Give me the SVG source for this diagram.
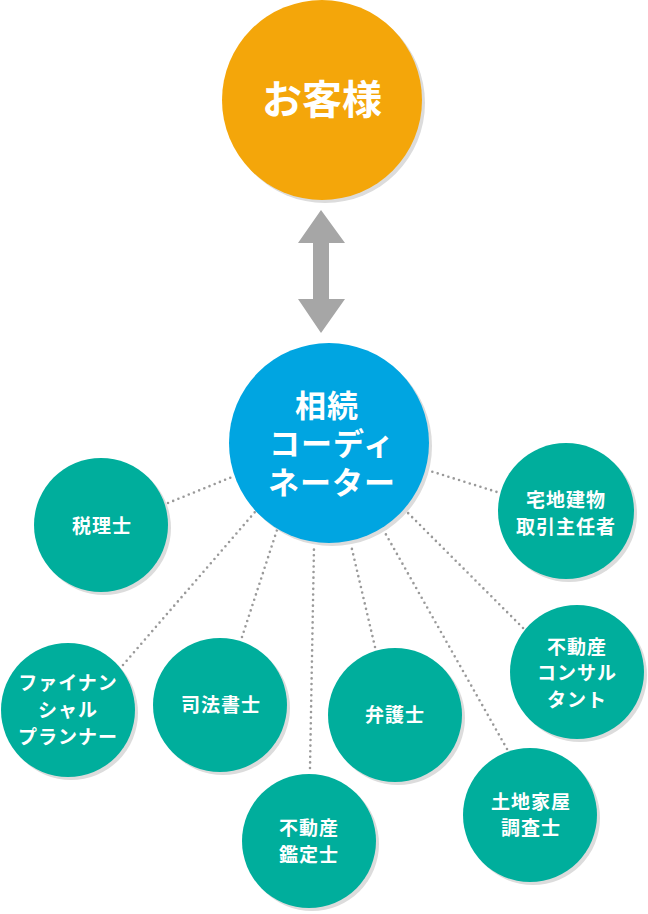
<svg xmlns="http://www.w3.org/2000/svg" width="648" height="914" viewBox="0 0 648 914">
<style>
.sh{fill:#dcdcdc}
.t{fill:#fff;font-family:"Noto Sans CJK JP","Noto Sans",sans-serif;font-weight:bold;text-anchor:middle}
.s{font-size:19px;letter-spacing:1px}
.m{font-size:31px;letter-spacing:1px}
.l{font-size:40px}
.tl{fill:#00ae9c}
.dot{stroke:#9a9a9a;stroke-width:2.6;stroke-linecap:round;stroke-dasharray:0 5.6;fill:none}
</style>
<rect width="648" height="914" fill="#fff"/>
<g id="connectors">
<line class="dot" x1="168" y1="503" x2="232" y2="477"/>
<line class="dot" x1="123" y1="665" x2="255" y2="512"/>
<line class="dot" x1="242" y1="637" x2="277" y2="530"/>
<line class="dot" x1="310" y1="768" x2="314" y2="547"/>
<line class="dot" x1="375" y1="647" x2="351" y2="545"/>
<line class="dot" x1="507" y1="749" x2="384" y2="531"/>
<line class="dot" x1="523" y1="628" x2="405" y2="510"/>
<line class="dot" x1="427" y1="470" x2="497" y2="492"/>
<polygon fill="#a6a6a6" points="321,210 345,243 329,243 329,299 345,299 321,333 298,299 313,299 313,243 298,243"/>
</g>
<g id="customer">
<circle class="sh" cx="325" cy="103" r="100"/>
<circle cx="322" cy="100" r="100" fill="#f4a60a"/>
<text class="t l" x="322" y="114">お客様</text>
</g>
<g id="coordinator">
<circle class="sh" cx="332" cy="446" r="100"/>
<circle cx="329" cy="443" r="100" fill="#00a5e1"/>
<text class="t m" x="327" y="417">相続</text>
<text class="t m" x="332" y="455">コーディ</text>
<text class="t m" x="332" y="494">ネーター</text>
</g>
<g id="zeirishi">
<circle class="sh" cx="104" cy="528" r="67"/>
<circle class="tl" cx="101" cy="525" r="67"/>
<text class="t s" x="102" y="533">税理士</text>
</g>
<g id="fp">
<circle class="sh" cx="71" cy="713" r="67"/>
<circle class="tl" cx="68" cy="710" r="67"/>
<text class="t s" x="68" y="690">ファイナン</text>
<text class="t s" x="68" y="717">シャル</text>
<text class="t s" x="68" y="744">プランナー</text>
</g>
<g id="shihoshoshi">
<circle class="sh" cx="223" cy="708" r="67"/>
<circle class="tl" cx="220" cy="705" r="67"/>
<text class="t s" x="221" y="712">司法書士</text>
</g>
<g id="kanteishi">
<circle class="sh" cx="312" cy="844" r="67"/>
<circle class="tl" cx="309" cy="841" r="67"/>
<text class="t s" x="309" y="835">不動産</text>
<text class="t s" x="309" y="862">鑑定士</text>
</g>
<g id="bengoshi">
<circle class="sh" cx="398" cy="718" r="67"/>
<circle class="tl" cx="395" cy="715" r="67"/>
<text class="t s" x="395" y="722">弁護士</text>
</g>
<g id="chousashi">
<circle class="sh" cx="533" cy="818" r="67"/>
<circle class="tl" cx="530" cy="815" r="67"/>
<text class="t s" x="531" y="809">土地家屋</text>
<text class="t s" x="531" y="835">調査士</text>
</g>
<g id="consultant">
<circle class="sh" cx="580" cy="675" r="67"/>
<circle class="tl" cx="577" cy="672" r="67"/>
<text class="t s" x="577" y="654">不動産</text>
<text class="t s" x="577" y="680">コンサル</text>
<text class="t s" x="577" y="707">タント</text>
</g>
<g id="takken">
<circle class="sh" cx="569" cy="514" r="68"/>
<circle class="tl" cx="566" cy="511" r="68"/>
<text class="t s" x="566" y="507">宅地建物</text>
<text class="t s" x="566" y="534">取引主任者</text>
</g>
</svg>
